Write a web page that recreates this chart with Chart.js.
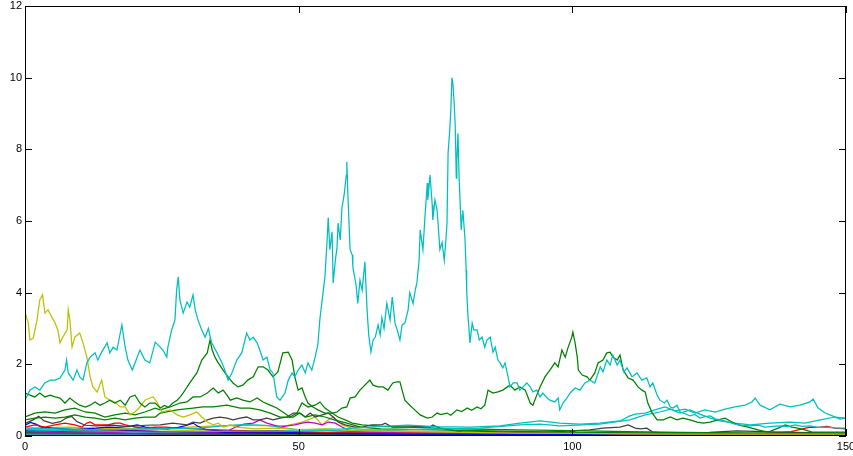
<!DOCTYPE html>
<html>
<head>
<meta charset="utf-8">
<script src="https://cdn.jsdelivr.net/npm/chart.js@4.4.1/dist/chart.umd.min.js"></script>
<style>
  html, body { margin: 0; padding: 0; background: #fff; }
  canvas { display: block; }
</style>
</head>
<body>
<canvas id="paths" width="853" height="456"></canvas>
<script>
// axis ticks
const xTicks = [0, 50, 100, 150];
const yTicks = [0, 2, 4, 6, 8, 10, 12];

// series, [time, value]
const cyanMain = [[0,1.0],[0.9,1.28],[1.8,1.37],[2.7,1.28],[3.6,1.48],[4.6,1.56],[5.5,1.56],[6.4,1.62],[7.3,1.84],[7.6,2.12],[7.9,1.76],[8.8,1.56],[9.5,1.84],[10,1.65],[10.6,1.56],[11.3,2.04],[11.9,2.2],[12.8,2.32],[13.3,2.12],[14,2.34],[15,2.6],[15.5,2.32],[16.1,2.48],[16.8,2.4],[17.7,3.1],[18.3,2.48],[18.8,2.12],[19.6,1.84],[20.5,2.2],[21,2.4],[21.9,2.12],[22.8,2.04],[23.8,2.62],[24.7,2.48],[25.2,2.4],[25.9,2.2],[26.1,2.48],[26.8,2.96],[27.4,3.24],[27.7,4.07],[28,4.44],[28.3,3.8],[28.9,3.43],[29.6,3.74],[30.1,3.6],[30.7,3.94],[31.1,3.52],[31.6,3.24],[32.3,2.96],[32.9,2.76],[33.5,3.0],[34.1,2.6],[35.1,2.32],[36,2.04],[36.5,1.84],[37.1,1.56],[37.8,1.76],[38.7,2.12],[39.6,2.32],[40.5,2.87],[41.1,2.68],[41.7,2.76],[42.4,2.6],[42.9,2.4],[43.5,2.12],[44.2,2.2],[44.8,1.84],[45.3,1.76],[46,1.09],[46.6,1.0],[47.5,1.2],[48.1,1.56],[48.8,1.76],[49.3,1.65],[49.9,1.84],[50.6,1.98],[51.2,1.76],[51.7,2.04],[52.4,1.84],[53,2.2],[53.5,2.54],[53.9,3.3],[54.3,3.8],[54.8,4.44],[55.2,5.47],[55.4,6.1],[55.7,5.2],[56.1,5.7],[56.3,4.27],[56.7,4.9],[57,5.25],[57.2,5.94],[57.6,5.47],[57.9,6.36],[58.3,6.72],[58.7,7.28],[58.8,7.65],[59,6.72],[59.4,5.2],[59.8,5.05],[59.9,4.72],[60.5,4.2],[60.8,3.7],[61.2,4.35],[61.6,4.07],[62.1,4.86],[62.5,3.52],[62.8,2.82],[63.2,2.34],[63.6,2.68],[64,2.76],[64.5,3.1],[64.9,2.82],[65.2,3.3],[65.6,3.0],[66.1,3.7],[66.7,3.24],[67.1,3.88],[67.6,3.15],[68,2.96],[68.5,2.68],[68.9,3.1],[69.4,3.15],[70,3.52],[70.3,4.0],[70.9,3.7],[71.3,4.07],[71.6,4.27],[72,4.9],[72.2,5.75],[72.7,5.2],[73.1,6.17],[73.5,7.06],[73.6,6.59],[74,7.28],[74.4,6.45],[74.5,6.03],[74.9,6.59],[75.3,6.3],[75.8,5.2],[76.2,5.4],[76.6,4.9],[76.9,5.47],[77.1,5.94],[77.3,7.9],[77.6,8.54],[77.8,9.1],[78,10.0],[78.2,9.8],[78.4,9.3],[78.6,8.68],[78.8,7.2],[78.9,7.68],[79.1,8.45],[79.3,7.28],[79.7,5.75],[79.9,6.17],[80,6.3],[80.4,5.47],[80.6,4.63],[80.7,4.07],[80.9,3.43],[81.3,2.6],[81.7,3.15],[82,2.96],[82.6,2.96],[83,2.68],[83.5,2.76],[84,2.48],[84.4,2.68],[85,2.76],[85.5,2.34],[85.9,2.48],[86.4,2.12],[86.8,2.04],[87.3,1.9],[87.7,2.04],[88.3,1.62],[88.6,1.37],[89.2,1.48],[89.9,1.48],[90.4,1.28],[91,1.37],[91.7,1.48],[92.3,1.37],[92.8,1.23],[93.5,1.28],[94.1,1.09],[94.6,1.2],[95.4,1.06],[95.9,1.0],[96.8,0.95],[97.4,1.06],[97.7,0.73],[98.3,0.92],[99,1.06],[99.6,1.2],[100.5,1.34],[101.4,1.28],[102.3,1.48],[103.2,1.56],[104.1,1.48],[105.1,1.93],[105.6,1.79],[106.3,2.12],[106.9,1.98],[107.4,2.26],[108.2,1.98],[108.7,2.12],[109.4,1.79],[110,1.9],[110.9,1.65],[111.8,1.76],[112.7,1.56],[113.6,1.62],[114.2,1.37],[114.7,1.48],[115.5,1.14],[116,1.0],[116.8,0.92],[117.3,1.0],[117.9,0.81],[118.4,0.78],[119.1,0.86],[119.7,0.67],[120.6,0.62],[121.5,0.56],[122.4,0.6],[123.3,0.5],[124.2,0.54],[125.2,0.56],[126.1,0.48],[127,0.45],[128.3,0.4],[129.7,0.33],[131,0.3],[132.5,0.28],[134,0.3],[135.2,0.25],[136.6,0.27],[138,0.28],[139.4,0.26],[140.7,0.31],[142,0.27],[143.4,0.28],[144.8,0.24],[146.2,0.25],[148,0.23],[150,0.22]];

const cyanHigh = [[0,0.22],[6,0.2],[13.7,0.17],[22,0.2],[32,0.22],[36,0.28],[40,0.32],[44,0.3],[50,0.17],[58,0.2],[65,0.27],[70,0.3],[75,0.26],[81.3,0.25],[86.8,0.28],[90.4,0.36],[94.1,0.42],[97.7,0.36],[101.4,0.33],[105,0.36],[108.7,0.42],[110.5,0.56],[111.5,0.61],[113.3,0.64],[115.1,0.73],[116.9,0.81],[118.8,0.7],[120.6,0.75],[122.4,0.64],[124.2,0.73],[126.1,0.67],[127.9,0.75],[129.7,0.81],[131.6,0.86],[132.8,0.95],[133.4,1.06],[134.3,0.86],[136.1,0.73],[137.9,0.89],[139.8,0.81],[141.6,0.86],[143.4,0.95],[144,1.03],[144.9,0.78],[146.2,0.64],[147.5,0.56],[148.9,0.47],[150,0.5]];

const cyanLow = [[0,0.17],[10,0.14],[22.8,0.11],[35,0.13],[50,0.14],[60,0.16],[68.5,0.17],[76,0.2],[83.1,0.22],[90.4,0.31],[94.1,0.33],[97.7,0.28],[105,0.33],[110.5,0.45],[113.3,0.59],[116,0.67],[117.9,0.75],[119.7,0.64],[121.5,0.73],[123.3,0.61],[125.2,0.5],[127,0.42],[129.7,0.36],[132.5,0.31],[136.1,0.36],[139.8,0.39],[142.5,0.36],[145.3,0.45],[148,0.53],[150,0.5]];

const yellowHigh = [[0,3.46],[0.6,3.15],[0.9,2.68],[1.5,2.73],[2.2,3.24],[2.7,3.8],[3.2,3.94],[3.65,3.43],[4.2,3.52],[4.9,3.32],[5.5,3.15],[6,2.96],[6.4,2.6],[6.9,2.76],[7.7,2.96],[7.9,3.52],[8.2,3.24],[8.6,2.48],[9.1,2.76],[10,2.87],[10.6,2.6],[11.3,2.2],[11.9,1.65],[12.4,1.37],[13.2,1.23],[14,1.56],[14.6,1.09],[15.5,1.0],[16.4,0.95],[17.4,0.81],[18.3,0.81],[19.2,0.59],[20.1,0.67],[21,0.81],[21.9,1.0],[22.8,1.06],[23.4,1.09],[24.1,0.95],[25,0.67],[26.5,0.73],[27.8,0.59],[28.9,0.53],[30.1,0.59],[31.4,0.67],[32.3,0.53],[33.3,0.39],[34.4,0.31],[35.3,0.36],[36.2,0.25],[37.5,0.31],[38.7,0.25],[42,0.2],[46,0.22],[50,0.18],[55,0.2],[60,0.15],[70,0.12],[80,0.1],[90,0.08],[100,0.07],[110,0.06],[120,0.05],[150,0.05]];

const yellowLow = [[0,0.2],[5,0.18],[10,0.2],[15,0.22],[20,0.2],[25,0.22],[30,0.25],[35,0.28],[40,0.3],[45,0.28],[48,0.3],[50.5,0.38],[51.7,0.45],[53,0.53],[54.3,0.31],[55.4,0.45],[56.3,0.53],[57,0.45],[57.9,0.31],[60,0.2],[65,0.16],[75,0.12],[90,0.1],[110,0.08],[130,0.07],[150,0.06]];

const greenHigh = [[0,1.2],[0.9,1.14],[1.8,1.09],[2.7,1.2],[3.65,1.09],[4.6,1.14],[5.5,1.09],[6.4,1.06],[7.3,0.92],[8.2,1.06],[9.1,0.95],[10,0.86],[11,0.81],[11.9,0.86],[12.8,0.95],[13.7,0.86],[14.6,0.92],[15.5,1.0],[16.4,0.92],[17.4,1.0],[18.3,0.86],[19.2,1.09],[20.1,1.14],[21,0.92],[21.9,0.81],[22.8,0.92],[23.8,0.92],[24.7,0.78],[25.5,0.85],[26.2,0.8],[27,0.92],[27.8,1.0],[28.4,1.1],[28.9,1.2],[30.1,1.48],[31.4,1.76],[32.3,2.12],[33.3,2.32],[33.8,2.68],[34.2,2.4],[34.7,2.2],[35.3,2.04],[36.2,1.84],[37.1,1.65],[38,1.48],[38.9,1.37],[39.8,1.42],[40.7,1.56],[41.7,1.65],[42.6,1.93],[43.5,1.93],[44.4,1.84],[45.3,1.65],[46.2,1.79],[47.1,2.32],[48.1,2.34],[48.8,2.12],[49.3,1.65],[49.9,1.28],[50.6,1.34],[51.2,1.09],[51.7,0.92],[52.6,0.81],[53.5,0.73],[54.8,0.64],[56.1,0.64],[57,0.67],[57.9,0.78],[58.8,0.81],[59.4,1.06],[60.3,1.09],[61.2,1.28],[62.1,1.42],[63,1.56],[63.6,1.42],[64.5,1.37],[65.4,1.37],[66.3,1.28],[67.2,1.48],[67.9,1.51],[68.5,1.51],[68.9,1.28],[69.4,1.0],[70.3,0.86],[71.2,0.73],[72.2,0.59],[73.5,0.5],[74.4,0.53],[75.3,0.64],[76,0.6],[77.1,0.64],[77.8,0.58],[78.9,0.73],[79.8,0.68],[80.8,0.78],[81.6,0.72],[82.6,0.81],[83.3,0.76],[84,0.86],[84.6,1.28],[85.5,1.2],[86.4,1.23],[87.3,1.28],[88.6,1.42],[89.5,1.28],[90.4,1.37],[91.4,1.28],[92.3,0.92],[92.8,0.86],[93.5,1.14],[94.1,1.37],[95,1.65],[95.9,1.84],[96.8,2.04],[97.4,1.93],[98.1,2.4],[98.7,2.2],[99.2,2.46],[99.9,2.76],[100.1,2.9],[100.5,2.6],[100.9,2.2],[101.1,1.84],[101.8,1.7],[102.7,1.65],[103.2,1.56],[104.1,1.76],[104.7,2.04],[105.6,2.12],[106.3,2.32],[106.9,2.34],[107.4,2.2],[108.2,2.12],[108.7,2.26],[109.3,1.84],[110.2,1.62],[111.1,1.56],[112,1.37],[112.7,1.28],[113.3,1.23],[113.8,0.92],[114.6,0.64],[115.5,0.45],[116.6,0.45],[117.9,0.53],[119.1,0.45],[120.2,0.5],[121.5,0.45],[122.8,0.39],[123.9,0.36],[125.2,0.39],[126.6,0.45],[127.9,0.5],[129.2,0.39],[130.3,0.31],[132.1,0.25],[133.9,0.17],[135.8,0.11],[137.6,0.22],[138.9,0.31],[140.1,0.25],[141.2,0.22],[142.5,0.17],[143.8,0.11],[147.5,0.11],[150,0.11]];

const greenMid = [[0,0.53],[1.8,0.64],[3.65,0.67],[5.5,0.64],[7.3,0.73],[9.1,0.78],[11,0.67],[12.8,0.64],[14.6,0.53],[16.4,0.59],[18.3,0.64],[20.1,0.59],[21.9,0.67],[23.8,0.78],[24.7,0.73],[26.5,0.81],[28.3,0.92],[29.6,0.95],[30.7,1.09],[32,1.09],[33.3,1.2],[34.4,1.34],[35.3,1.2],[36.2,1.28],[36.9,1.14],[37.5,1.0],[38.7,1.06],[39.8,1.0],[41.1,0.95],[42.4,1.06],[43.5,0.95],[44.8,0.86],[46,0.78],[47.1,0.67],[48.4,0.53],[49.7,0.64],[50.6,0.92],[51.7,0.81],[53,0.86],[53.9,0.95],[54.8,0.78],[56.1,0.64],[57.2,0.53],[58.5,0.45],[59.8,0.36],[61.6,0.31],[65,0.27],[70,0.25],[75,0.22],[80,0.2],[90,0.17],[100,0.15],[110,0.12],[120,0.1],[135,0.08],[150,0.08]];

const greenLow = [[0,0.45],[1.8,0.5],[3.65,0.53],[5.5,0.5],[7.3,0.53],[9.1,0.59],[11,0.53],[12.8,0.5],[14.6,0.45],[16.4,0.5],[18.3,0.45],[20.1,0.5],[21.9,0.53],[23.8,0.53],[24.7,0.64],[27.8,0.73],[30.7,0.78],[32.5,0.81],[34.4,0.81],[36.9,0.86],[39.3,0.78],[41.1,0.78],[42.9,0.73],[44.8,0.64],[46.6,0.53],[49,0.53],[50.2,0.64],[51.2,0.53],[53,0.59],[54.8,0.53],[56.5,0.45],[58.8,0.36],[61.3,0.25],[65,0.2],[75,0.17],[85,0.14],[100,0.1],[120,0.08],[150,0.06]];

const grayLine = [[0,0.35],[1.5,0.45],[2.5,0.55],[3.5,0.42],[5,0.35],[6.5,0.4],[7.5,0.5],[8.5,0.55],[9.5,0.4],[11,0.3],[13,0.28],[16,0.3],[19,0.26],[22,0.3],[24.7,0.31],[27,0.36],[29.6,0.31],[30.7,0.39],[32,0.36],[33.3,0.45],[34.4,0.5],[35.6,0.53],[36.9,0.5],[38,0.45],[39.3,0.5],[40.5,0.53],[41.7,0.45],[42.9,0.45],[44.2,0.5],[45.3,0.45],[46.6,0.5],[47.9,0.53],[49,0.64],[50.2,0.64],[51.2,0.53],[52.1,0.64],[53,0.53],[54.3,0.59],[55.4,0.64],[56.3,0.53],[57.2,0.39],[58.5,0.31],[60.3,0.25],[61.6,0.25],[63.4,0.31],[65.2,0.31],[65.8,0.36],[67.1,0.25],[69.4,0.25],[72,0.27],[74,0.25],[74.5,0.31],[75.8,0.22],[77.7,0.17],[80,0.11],[85,0.12],[90,0.1],[95.4,0.11],[100,0.14],[103.2,0.17],[105.6,0.22],[108.7,0.25],[110.2,0.31],[111.5,0.22],[112.4,0.2],[113.6,0.22],[114.7,0.11],[117.3,0.08],[125,0.1],[130,0.14],[135,0.12],[140,0.1],[150,0.08]];

const redLine = [[0,0.25],[1.8,0.31],[3.65,0.25],[5.5,0.31],[7.3,0.36],[9.1,0.31],[10.4,0.25],[11.3,0.36],[11.9,0.39],[12.8,0.31],[14,0.31],[15.2,0.31],[16.4,0.36],[17.4,0.36],[18.3,0.31],[20.1,0.25],[21.9,0.22],[23.8,0.25],[25.6,0.25],[28,0.22],[31,0.2],[34,0.18],[38,0.16],[42,0.14],[46,0.15],[50,0.12],[55,0.1],[60,0.12],[70,0.1],[80,0.08],[90,0.07],[100,0.08],[110,0.06],[120,0.07],[130,0.06],[136,0.08],[140,0.12],[142,0.2],[143.5,0.25],[145,0.24],[146.5,0.27],[148,0.22],[150,0.2]];

const blueLine = [[0,0.3],[1,0.38],[2,0.33],[3,0.25],[5,0.22],[7,0.2],[9,0.18],[11,0.2],[13,0.22],[15,0.25],[17,0.24],[19,0.27],[20.5,0.31],[22,0.25],[24,0.22],[26,0.2],[28,0.24],[29.6,0.3],[30.7,0.36],[31.5,0.28],[33,0.18],[36,0.14],[40,0.12],[50,0.1],[60,0.08],[70,0.06],[90,0.05],[120,0.04],[150,0.04]];

const magentaLine = [[0,0.12],[5,0.1],[10,0.12],[15,0.1],[20,0.08],[25,0.1],[30,0.12],[35,0.11],[37,0.14],[38.5,0.25],[40,0.33],[41.7,0.36],[42.9,0.45],[44.2,0.36],[45.3,0.31],[46.6,0.25],[47.9,0.28],[49.3,0.31],[50.6,0.36],[51.7,0.39],[53,0.36],[54.3,0.31],[55.4,0.39],[56.7,0.36],[57.9,0.25],[59,0.17],[61.6,0.11],[65,0.1],[70,0.08],[80,0.1],[85,0.09],[90,0.1],[95,0.1],[100,0.09],[105,0.07],[115,0.06],[130,0.05],[150,0.04]];

// the bundle close to zero
const lowBlue = [[0,0.15],[10,0.12],[20,0.14],[30,0.1],[45,0.08],[60,0.06],[80,0.05],[100,0.04],[150,0.03]];
const lowGreen = [[0,0.1],[15,0.08],[30,0.06],[50,0.05],[80,0.04],[120,0.03],[150,0.03]];
const lowRed = [[0,0.18],[8,0.15],[16,0.17],[25,0.12],[35,0.1],[50,0.09],[70,0.07],[100,0.05],[150,0.04]];
const lowMagenta = [[0,0.08],[12,0.07],[25,0.06],[45,0.05],[80,0.04],[150,0.02]];
const lowYellow = [[0,0.22],[8,0.25],[15,0.2],[24,0.18],[32,0.14],[45,0.1],[60,0.08],[90,0.05],[150,0.04]];
const lowCyan = [[0,0.06],[20,0.05],[40,0.07],[60,0.05],[100,0.03],[150,0.02]];
const lowGray = [[0,0.05],[30,0.04],[60,0.03],[150,0.02]];
const crossMark = [[100,0.12]];

const C = 'rgb(0,191,191)', Y = 'rgb(191,191,0)', G = 'rgb(0,128,0)',
      K = 'rgb(64,64,64)', R = 'rgb(255,0,0)', B = 'rgb(0,0,255)', M = 'rgb(191,0,191)';

function line(pts, color) {
  return {
    data: pts.map(p => ({ x: p[0], y: p[1] })),
    borderColor: color,
    borderWidth: 1.25,
    pointRadius: 0,
    fill: false,
    tension: 0
  };
}

const series = [
  [cyanMain, C], [greenHigh, G], [yellowHigh, Y], [cyanHigh, C], [cyanLow, C],
  [greenMid, G], [greenLow, G], [grayLine, K], [magentaLine, M], [redLine, R],
  [blueLine, B], [yellowLow, Y], [lowBlue, B], [lowGreen, G], [lowRed, R],
  [lowMagenta, M], [lowYellow, Y], [lowCyan, C], [lowGray, K]
];
const datasets = series.map(s => line(s[0], s[1]));
datasets.push({
  data: crossMark.map(p => ({ x: p[0], y: p[1] })),
  showLine: false, pointStyle: 'cross', pointRadius: 3,
  borderColor: 'rgb(30,30,30)', borderWidth: 1
});

// box with inward tick marks on all four sides
const boxPlugin = {
  id: 'box',
  afterDraw(chart) {
    const { ctx, chartArea: a, scales } = chart;
    ctx.save();
    ctx.strokeStyle = '#000';
    ctx.lineWidth = 1;
    ctx.strokeRect(a.left + 0.5, a.top + 0.5, a.right - a.left - 1, a.bottom - a.top - 1);
    ctx.beginPath();
    const len = 7;
    xTicks.forEach(v => {
      const px = Math.round(scales.x.getPixelForValue(v)) + 0.5;
      ctx.moveTo(px, a.bottom); ctx.lineTo(px, a.bottom - len);
      ctx.moveTo(px, a.top); ctx.lineTo(px, a.top + len);
    });
    yTicks.forEach(v => {
      const py = Math.round(scales.y.getPixelForValue(v)) + 0.5;
      ctx.moveTo(a.left, py); ctx.lineTo(a.left + len, py);
      ctx.moveTo(a.right, py); ctx.lineTo(a.right - len, py);
    });
    ctx.stroke();
    ctx.restore();
  }
};

new Chart(document.getElementById('paths').getContext('2d'), {
  type: 'line',
  data: { datasets },
  plugins: [boxPlugin],
  options: {
    responsive: false,
    animation: false,
    devicePixelRatio: 1,
    layout: { padding: { top: 6, right: 7, left: 0, bottom: 0 } },
    plugins: { legend: { display: false }, tooltip: { enabled: false } },
    scales: {
      x: {
        type: 'linear', min: 0, max: 150,
        afterBuildTicks: s => { s.ticks = xTicks.map(v => ({ value: v })); },
        afterFit: s => { s.height = 20; s.paddingLeft = 0; s.paddingRight = 0; },
        grid: { display: false, drawTicks: false },
        border: { display: false },
        ticks: { padding: 4, color: '#000', maxRotation: 0, font: { family: 'Liberation Sans', size: 11 } }
      },
      y: {
        type: 'linear', min: 0, max: 12,
        afterBuildTicks: s => { s.ticks = yTicks.map(v => ({ value: v })); },
        afterFit: s => { s.width = 25; s.paddingTop = 0; s.paddingBottom = 0; },
        grid: { display: false, drawTicks: false },
        border: { display: false },
        ticks: { padding: 3, color: '#000', font: { family: 'Liberation Sans', size: 11 } }
      }
    }
  }
});
</script>
</body>
</html>
